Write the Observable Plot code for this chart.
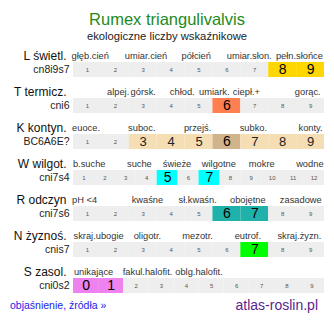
<!DOCTYPE html>
<html><head><meta charset="utf-8">
<script src="https://cdn.jsdelivr.net/npm/d3@7"></script>
<script src="https://cdn.jsdelivr.net/npm/@observablehq/plot@0.6"></script>
<style>
body{margin:0;background:#fff;font-family:"Liberation Sans",Arial,sans-serif}
#wrap{position:relative;width:334px;height:322px;overflow:hidden;background:#fff}
#title{position:absolute;left:0;top:11px;width:334px;text-align:center;font-size:16.5px;line-height:16.5px;color:#228b22;white-space:nowrap}
#sub{position:absolute;left:0;top:31px;width:334px;text-align:center;font-size:11.25px;line-height:11.25px;color:#222;white-space:nowrap}
#chart{position:absolute;left:0;top:44px}
#link{position:absolute;left:10px;top:300.4px;font-size:10.5px;line-height:10.5px;color:#2323e8;white-space:nowrap}
#site{position:absolute;right:16px;top:297.5px;font-size:14px;line-height:14px;color:#5b1f8f;white-space:nowrap}
</style></head>
<body>
<div id="wrap">
  <div id="title"></div>
  <div id="sub"></div>
  <div id="chart"></div>
  <div id="link"></div>
  <div id="site"></div>
</div>
<script>
const titleText = "Rumex triangulivalvis";
const subtitleText = "ekologiczne liczby wskaźnikowe";
const linkText = "objaśnienie, źródła »";
const siteText = "atlas-roslin.pl";

const rowKeys = ["L","T","K","W","R","N","S"];
const rowNames = ["L świetl.","T termicz.","K kontyn.","W wilgot.","R odczyn","N żyznoś.","S zasol."];
const rowCodes = ["cn8i9s7","cni6","BC6A6E?","cni7s4","cni7s6","cnis7","cni0s2"];
const scaleFrom = [1,1,1,1,1,1,0];
const scaleTo = [9,9,9,12,9,9,9];
const mainValues = [[8,9],[6],[6],[5,7],[6,7],[7],[0,1]];
const sideValues = [[],[],[3,4,5,7,8,9],[],[],[],[]];
const mainColors = ["#ffd700","#ff7f50","#d2b48c","#00ffff","#20b2aa","#00ff00","#ee82ee"];
const sideColors = [null,null,"#f5deb3",null,null,null,null];
const emptyColor = "#eeeeee";

const descL = ["głęb.cień","umiar.cień","półcień","umiar.słon.","pełn.słońce"];
const descLAt = [1.1,3.1,4.9,6.8,8.6];
const descT = ["alpej.","górsk.","chłod.","umiark.","ciepł.+","gorąc."];
const descTAt = [2.1,3.0,4.4,5.55,6.7,8.9];
const descK = ["euoce.","suboc.","przejś.","subko.","konty."];
const descKAt = [0.95,2.95,4.95,6.95,9.0];
const descW = ["b.suche","suche","świeże","wilgotne","mokre","wodne"];
const descWAt = [1.25,3.65,5.45,7.45,9.5,11.8];
const descR = ["pH <4","kwaśne","sł.kwaśn.","obojętne","zasadowe"];
const descRAt = [0.9,3.15,4.95,6.75,8.65];
const descN = ["skraj.ubogie","oligotr.","mezotr.","eutrof.","skraj.żyzn."];
const descNAt = [1.4,3.15,4.95,6.75,8.6];
const descS = ["unikające","fakul.halofit.","oblg.halofit."];
const descSAt = [0.3,2.45,4.5];
const descs = [descL,descT,descK,descW,descR,descN,descS];
const descAts = [descLAt,descTAt,descKAt,descWAt,descRAt,descNAt,descSAt];

document.getElementById("title").textContent = titleText;
document.getElementById("sub").textContent = subtitleText;
document.getElementById("link").textContent = linkText;
document.getElementById("site").textContent = siteText;

const cells = [];
const headers = [];
const rowsData = rowKeys.map((k,i)=>({row:k,name:rowNames[i],code:rowCodes[i]}));
rowKeys.forEach((k,i)=>{
  const n = scaleTo[i]-scaleFrom[i]+1;
  for(let v=scaleFrom[i]; v<=scaleTo[i]; v++){
    const main = mainValues[i].includes(v);
    const side = sideValues[i].includes(v);
    cells.push({row:k, v, x1:(v-scaleFrom[i])/n, x2:(v-scaleFrom[i]+1)/n,
      kind: main ? "main" : side ? "side" : "none",
      fill: main ? mainColors[i] : side ? sideColors[i] : emptyColor});
  }
  descs[i].forEach((t,j)=>{
    headers.push({row:k, text:t, x:(descAts[i][j]-scaleFrom[i]+0.5)/n});
  });
});
const mid = d => (d.x1+d.x2)/2;

const chart = Plot.plot({
  width: 334,
  height: 252,
  marginLeft: 73,
  marginRight: 10,
  marginTop: 0,
  marginBottom: 0,
  style: {fontFamily: "'Liberation Sans', Arial, sans-serif", background: "transparent"},
  x: {domain: [0,1], axis: null},
  y: {type: "band", domain: rowKeys, range: [0,252], padding: 0, axis: null},
  marks: [
    Plot.barX(cells, {x1:"x1", x2:"x2", y:"row", fill:"fill", insetTop:18, insetBottom:3, insetLeft:0, insetRight:0}),
    Plot.text(cells.filter(d=>d.kind==="none"), {x:mid, y:"row", text:"v", dy:7.5, fontSize:6, fill:"#555"}),
    Plot.text(cells.filter(d=>d.kind==="side"), {x:mid, y:"row", text:"v", dy:7.5, fontSize:13, fill:"#222"}),
    Plot.text(cells.filter(d=>d.kind==="main"), {x:mid, y:"row", text:"v", dy:7.5, fontSize:14, fill:"#000"}),
    Plot.text(headers, {x:"x", y:"row", text:"text", dy:-6, fontSize:9.3, fill:"#333"}),
    Plot.text(rowsData, {x:0, y:"row", text:"name", textAnchor:"end", dx:-7, dy:-6, fontSize:12, fill:"#111"}),
    Plot.text(rowsData, {x:0, y:"row", text:"code", textAnchor:"end", dx:-4, dy:7.5, fontSize:10.5, fill:"#222"})
  ]
});
document.getElementById("chart").appendChild(chart);
</script>
</body></html>
